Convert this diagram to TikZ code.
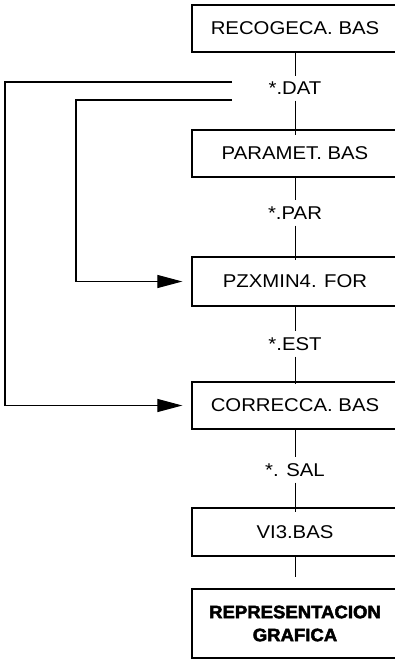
\documentclass[tikz,border=0pt]{standalone}
\usepackage{fontspec}
\setmainfont{Liberation Sans}[FakeStretch=1.1]
\newfontfamily\heavyfont{Liberation Sans}[FakeStretch=1.03,BoldFeatures={FakeBold=2.5}]
\usetikzlibrary{arrows.meta}
\begin{document}
\begin{tikzpicture}[x=1pt,y=-1pt,
  prog/.style={draw,line width=1.3pt,minimum width=206pt,inner sep=0pt,font=\fontsize{18.5}{22}\selectfont},
  flabel/.style={inner sep=0pt,minimum height=25pt,font=\fontsize{18.5}{22}\selectfont},
  conn/.style={line width=1pt},
  feed/.style={line width=1.2pt,-{Triangle[length=25pt,width=13pt]},shorten >=9pt}]
\useasboundingbox (0,0) rectangle (395,659);
\clip (0,0) rectangle (395,659);
\node[prog,minimum height=47pt] (b1) at (295,28.5) {RECOGECA. BAS};
\node[flabel] (dat) at (295,88) {*.DAT};
\node[prog,minimum height=47pt] (b2) at (295,153.5) {PARAMET. BAS};
\node[flabel] (par) at (295,213) {*.PAR};
\node[prog,minimum height=49pt] (b3) at (295,281.5) {PZXMIN4. FOR};
\node[flabel] (est) at (295,344) {*.EST};
\node[prog,minimum height=47pt] (b4) at (295,405.5) {CORRECCA. BAS};
\node[flabel] (sal) at (295,470) {*. SAL};
\node[prog,minimum height=48pt] (b5) at (295,532) {VI3.BAS};
\node[prog,minimum height=69pt,align=center,font=\fontsize{18}{23}\selectfont\heavyfont\bfseries] (b6) at (295,623.5) {REPRESENTACION\\GRAFICA};
\draw[conn] (b1.south) -- ([yshift=-1pt]dat.north);
\draw[conn] (dat.south) -- ([yshift=-6pt]b2.north);
\draw[conn] (b2.south) -- (par.north);
\draw[conn] (par.south) -- ([yshift=-4pt]b3.north);
\draw[conn] (b3.south) -- (est.north);
\draw[conn] (est.south) -- ([yshift=-3pt]b4.north);
\draw[conn] (b4.south) -- (sal.north);
\draw[conn] (sal.south) -- ([yshift=-5pt]b5.north);
\draw[conn] (b5.south) -- ([yshift=11pt]b6.north);
\coordinate (o1) at (232,82);
\coordinate (i1) at (232,100);
\draw[feed] (o1) -- (5,82) |- (b4.west);
\draw[feed] (i1) -- (76,100) |- (b3.west);
\end{tikzpicture}
\end{document}
